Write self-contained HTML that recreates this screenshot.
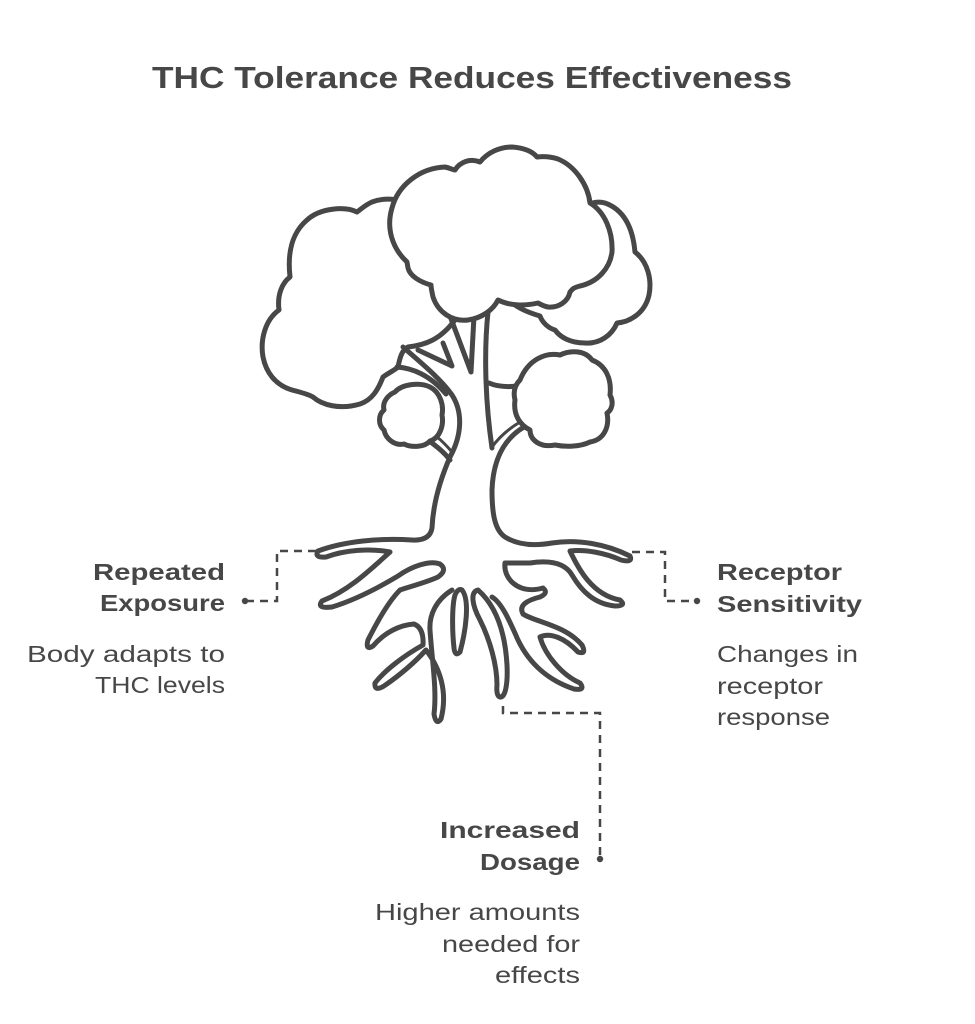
<!DOCTYPE html>
<html>
<head>
<meta charset="utf-8">
<style>
  html, body { margin: 0; padding: 0; background: #ffffff; }
  svg { display: block; }
  .t { font-family: "Liberation Sans", "DejaVu Sans", sans-serif; fill: #474747; }
  .b { font-weight: bold; }
</style>
</head>
<body>
<svg width="975" height="1024" viewBox="0 0 975 1024" xmlns="http://www.w3.org/2000/svg">
  <rect x="0" y="0" width="975" height="1024" fill="#ffffff"/>

  <!-- Title -->
  <text class="t b" x="152" y="88" font-size="31" textLength="640" lengthAdjust="spacingAndGlyphs">THC Tolerance Reduces Effectiveness</text>

  <g stroke="#474747" stroke-width="5" stroke-linejoin="round" stroke-linecap="round">
    <!-- right crown (behind) -->
    <path fill="#ffffff" d="M 560,230 C 575,205 595,200 605,203 C 625,210 633,230 635,252 C 648,262 652,280 649,295 C 645,313 630,322 617,323 C 612,335 600,344 585,343 C 570,343 560,337 555,330 C 548,328 542,322 540,316 C 530,313 522,310 515,305 Z"/>
    <!-- left crown -->
    <path fill="#ffffff" d="M 420,210 C 405,198 385,197 372,202 C 365,205 360,210 357,212 C 345,206 320,208 307,220 C 293,232 287,250 290,277 C 282,283 277,295 279,310 C 265,320 260,340 263,357 C 266,372 275,385 292,390 C 300,392 308,394 313,397 C 322,405 340,410 360,404 C 372,400 378,390 383,377 C 390,372 395,370 398,367 C 400,357 402,350 408,347 C 425,345 440,340 455,320 L 450,260 Z"/>

    <!-- trunk / branch lines -->
    <g fill="none">
      <path d="M 450,316 L 471,372 L 474,316"/>
      <path d="M 418,350 L 452,366 L 443,343"/>
      <path d="M 397,367 C 412,368 430,375 446,394"/>
      <path d="M 488,312 C 484,350 485,400 492,448"/>
      <path d="M 489,383 Q 500,388 518,386"/>
      <path d="M 428,440 C 436,446 444,452 450,460"/>
      <path d="M 436,436 C 442,441 447,446 452,452" stroke-width="3"/>
      <path d="M 492,447 C 500,436 510,428 520,422" stroke-width="3"/>
    </g>

    <!-- main crown -->
    <path fill="#ffffff" d="M 407,262 C 392,248 386,228 392,208 C 398,185 420,168 445,167 C 450,168 453,170 455,170 C 460,162 470,158 480,162 C 488,152 500,147 512,147 C 525,148 533,152 537,157 C 545,156 552,157 558,159 C 575,166 588,185 590,203 C 605,212 613,232 612,252 C 610,268 598,282 580,286 C 572,288 572,290 570,292 C 568,302 558,308 548,307 C 543,306 540,304 538,303 C 525,306 510,306 498,300 C 493,310 482,318 468,320 C 452,322 438,312 433,297 C 432,292 431,288 431,285 C 420,282 410,276 408,268 Z"/>
    <!-- main crown inner right crescent edge hint -->

    <!-- small left bush -->
    <path fill="#ffffff" d="M 395,392 C 402,384 420,382 430,387 C 440,392 444,405 442,415 C 444,425 440,438 430,441 C 425,447 412,448 404,444 C 396,446 386,440 384,430 C 378,425 378,415 384,410 C 382,402 388,395 395,392 Z"/>
    <!-- right bush -->
    <path fill="#ffffff" d="M 520,380 C 528,360 545,352 560,355 C 570,350 585,350 592,360 C 605,365 612,378 610,395 C 614,402 612,410 607,413 C 610,428 603,440 590,442 C 580,447 565,447 555,445 C 540,448 530,440 530,430 C 520,425 513,415 515,400 C 513,392 515,385 520,380 Z"/>

    <!-- roots: left outline -->
    <path fill="none" d="M 403,347 C 420,362 440,378 452,395 C 463,412 462,435 450,457 C 440,480 433,505 432,528 Q 430,541 412,540 C 380,538 345,541 318,551 Q 314,558 326,557 C 345,550 370,548 390,552 C 372,568 350,590 322,601 Q 316,609 332,607 C 355,600 378,588 398,576 C 412,566 430,560 440,564 Q 448,570 438,577 C 425,583 408,587 400,590 C 390,600 378,620 368,640 Q 365,651 373,646 C 385,632 400,625 414,624 Q 424,628 423,645 C 405,655 385,670 375,683 Q 374,692 384,686 C 400,675 415,662 426,650 C 440,668 448,692 441,719 Q 436,726 434,714 C 437,690 432,660 430,630 C 429,615 436,600 452,590"/>
    <!-- roots: right outline -->
    <path fill="none" d="M 524,427 C 502,440 493,462 492,490 C 492,515 495,530 505,537 C 518,545 535,546 552,543 C 578,539 606,544 630,556 Q 633,563 621,560 C 605,553 585,549 570,551 C 578,568 592,595 620,600 Q 627,606 615,606 C 595,604 582,592 572,575 C 565,563 550,560 530,563 L 505,563 C 503,578 518,595 543,588 Q 549,593 540,597 C 528,600 518,605 523,614 C 535,622 565,625 582,645 Q 587,655 578,652 C 565,638 550,632 540,637 C 545,655 562,675 580,683 Q 586,691 574,689 C 550,681 530,665 518,640 C 510,622 502,603 492,597"/>
    <!-- middle finger roots -->
    <path fill="none" d="M 462,590 C 470,600 466,630 460,652 Q 455,657 454,648 C 452,630 452,605 455,595 Q 458,588 462,590 Z"/>
    <path fill="none" d="M 478,590 C 495,605 505,630 507,665 C 508,685 505,698 500,697 Q 496,696 497,685 C 497,665 490,640 480,620 C 472,605 470,592 478,590 Z"/>
  </g>

  <!-- connectors -->
  <g fill="none" stroke="#474747" stroke-width="2.5" stroke-dasharray="8 6">
    <path d="M 316,551 L 277,551 L 277,601 L 247,601"/>
    <path d="M 632,552 L 665,552 L 665,601 L 695,601"/>
    <path d="M 503,706 L 503,713 L 600,713 L 600,856"/>
  </g>
  <g fill="#474747">
    <circle cx="245" cy="601" r="3.2"/>
    <circle cx="697" cy="601" r="3.2"/>
    <circle cx="600" cy="859" r="3.2"/>
  </g>

  <!-- left labels -->
  <text class="t b" x="225" y="580" font-size="23" text-anchor="end" textLength="132" lengthAdjust="spacingAndGlyphs">Repeated</text>
  <text class="t b" x="225" y="611" font-size="23" text-anchor="end" textLength="125" lengthAdjust="spacingAndGlyphs">Exposure</text>
  <text class="t" x="225" y="662" font-size="23" text-anchor="end" textLength="198" lengthAdjust="spacingAndGlyphs">Body adapts to</text>
  <text class="t" x="225" y="693" font-size="23" text-anchor="end" textLength="130" lengthAdjust="spacingAndGlyphs">THC levels</text>

  <!-- right labels -->
  <text class="t b" x="717" y="580" font-size="23" textLength="125" lengthAdjust="spacingAndGlyphs">Receptor</text>
  <text class="t b" x="717" y="612" font-size="23" textLength="145" lengthAdjust="spacingAndGlyphs">Sensitivity</text>
  <text class="t" x="717" y="662" font-size="23" textLength="141" lengthAdjust="spacingAndGlyphs">Changes in</text>
  <text class="t" x="717" y="694" font-size="23" textLength="106" lengthAdjust="spacingAndGlyphs">receptor</text>
  <text class="t" x="717" y="725" font-size="23" textLength="113" lengthAdjust="spacingAndGlyphs">response</text>

  <!-- bottom labels -->
  <text class="t b" x="580" y="838" font-size="23" text-anchor="end" textLength="140" lengthAdjust="spacingAndGlyphs">Increased</text>
  <text class="t b" x="580" y="870" font-size="23" text-anchor="end" textLength="100" lengthAdjust="spacingAndGlyphs">Dosage</text>
  <text class="t" x="580" y="920" font-size="23" text-anchor="end" textLength="205" lengthAdjust="spacingAndGlyphs">Higher amounts</text>
  <text class="t" x="580" y="952" font-size="23" text-anchor="end" textLength="138" lengthAdjust="spacingAndGlyphs">needed for</text>
  <text class="t" x="580" y="983" font-size="23" text-anchor="end" textLength="85" lengthAdjust="spacingAndGlyphs">effects</text>
</svg>
</body>
</html>
